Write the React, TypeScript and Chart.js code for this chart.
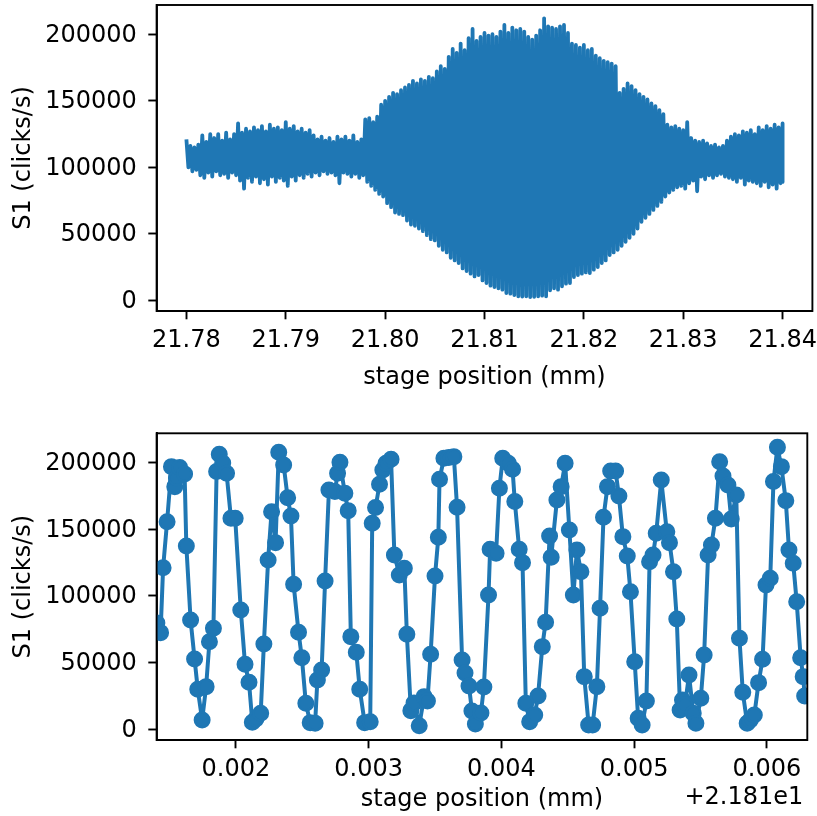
import React, { useEffect, useRef } from 'react';
import { Chart, registerables } from 'chart.js';

Chart.register(...registerables);

const FONT = 'DejaVu Sans';
const BLUE = '#1f77b4';
const FS = 24;

// ---------- overview scan (top panel) ----------
const overviewStart = 21.78; // mm
const overviewStep = 0.0004; // mm, about one fringe period
const overviewPeaks = [
  121000, 116000, 115000, 117000, 124000, 119000, 125000, 122000, 125000, 120000,
  126000, 121000, 125000, 133000, 126000, 129000, 127000, 130000, 128000, 131000,
  127000, 132000, 129000, 130000, 128000, 134000, 129000, 131000, 127000, 129000,
  126000, 128000, 124000, 121000, 123000, 120000, 122000, 119000, 123000, 121000,
  123000, 120000, 124000, 119000, 121000, 136000, 137000, 134000, 138000, 147000,
  150000, 153000, 156000, 155000, 158000, 160000, 162000, 165000, 163000, 166000,
  165000, 168000, 167000, 172000, 176000, 174000, 183000, 189000, 186000, 193000,
  188000, 197000, 204000, 195000, 198000, 201000, 199000, 200000, 198000, 202000,
  207000, 201000, 205000, 203000, 204000, 202000, 198000, 196000, 199000, 203000,
  212000, 206000, 205000, 204000, 206000, 207000, 201000, 193000, 192000, 190000,
  192000, 188000, 189000, 184000, 182000, 180000, 179000, 178000, 176000, 156000,
  159000, 163000, 161000, 158000, 155000, 153000, 151000, 148000, 146000, 143000,
  140000, 132000, 130000, 131000, 129000, 128000, 134000, 122000, 120000, 119000,
  120000, 118000, 116000, 117000, 115000, 116000, 120000, 123000, 125000, 124000,
  127000, 126000, 128000, 125000, 130000, 128000, 131000, 129000, 132000, 130000,
  133000,
];
const overviewTroughs = [
  100000, 97000, 98000, 94000, 92000, 96000, 93000, 97000, 94000, 95000,
  92000, 96000, 94000, 90000, 84000, 92000, 89000, 93000, 88000, 91000,
  87000, 93000, 89000, 92000, 90000, 86000, 93000, 90000, 94000, 92000,
  95000, 93000, 96000, 94000, 97000, 95000, 96000, 94000, 88000, 96000,
  95000, 93000, 95000, 92000, 94000, 89000, 86000, 83000, 80000, 78000,
  73000, 70000, 66000, 65000, 64000, 60000, 57000, 56000, 54000, 52000,
  49000, 46000, 45000, 41000, 38000, 36000, 32000, 30000, 28000, 24000,
  22000, 20000, 18000, 19000, 15000, 13000, 11000, 10000, 9000, 8000,
  5500, 5000, 4000, 3000, 2800, 3000, 2500, 2700, 3000, 3500,
  3000, 7500, 9000, 8000, 10500, 12500, 13000, 17500, 19000, 20000,
  21000, 20500, 23000, 25000, 28000, 30000, 34000, 36000, 38000, 41000,
  44000, 47000, 50000, 54000, 59000, 62000, 65000, 68000, 71000, 74000,
  78000, 81000, 83000, 85000, 86000, 84000, 88000, 90000, 82000, 93000,
  91000, 94000, 92000, 94000, 95000, 93000, 92000, 91000, 89000, 92000,
  87000, 90000, 89000, 88000, 86000, 89000, 85000, 87000, 84000, 88000,
  89000,
];
const overviewXTicks = [21.78, 21.79, 21.8, 21.81, 21.82, 21.83, 21.84];

// ---------- zoomed scan (bottom panel), x relative to offset ----------
const zoomOffsetLabel = '+2.181e1';
const zoomX = [
  0.001405, 0.001433, 0.001452, 0.001482, 0.001515, 0.00154, 0.001552, 0.001577, 0.001614, 0.001627,
  0.001659, 0.001689, 0.001713, 0.001746, 0.001776, 0.001801, 0.001831, 0.001855, 0.001875, 0.001901,
  0.00193, 0.001963, 0.001995, 0.002037, 0.002069, 0.002099, 0.002124, 0.002151, 0.002187, 0.002211,
  0.002243, 0.002269, 0.002299, 0.002323, 0.00236, 0.00239, 0.002415, 0.002435, 0.002472, 0.002497,
  0.002527, 0.00256, 0.002597, 0.002614, 0.002646, 0.002672, 0.002701, 0.002746, 0.002766, 0.002784,
  0.002821, 0.002846, 0.002866, 0.002907, 0.002933, 0.00297, 0.003012, 0.003027, 0.003052, 0.003082,
  0.003107, 0.003131, 0.003169, 0.003194, 0.003231, 0.003269, 0.003288, 0.003318, 0.003342, 0.003381,
  0.003418, 0.003443, 0.003467, 0.0035, 0.003525, 0.003534, 0.003567, 0.003604, 0.003642, 0.003666,
  0.003704, 0.003726, 0.003756, 0.003778, 0.003804, 0.003846, 0.003868, 0.003903, 0.003915, 0.00396,
  0.003985, 0.00401, 0.004052, 0.004084, 0.004101, 0.004134, 0.004159, 0.004184, 0.004213, 0.004251,
  0.004276, 0.004308, 0.004333, 0.004363, 0.004375, 0.004418, 0.00445, 0.00448, 0.004512, 0.004542,
  0.004569, 0.004599, 0.004624, 0.004657, 0.004687, 0.004719, 0.004743, 0.004769, 0.004799, 0.004823,
  0.00486, 0.004885, 0.004915, 0.004948, 0.004972, 0.005004, 0.00503, 0.00506, 0.005092, 0.005116,
  0.005142, 0.005166, 0.005204, 0.005246, 0.005266, 0.005296, 0.005321, 0.005346, 0.005364, 0.005383,
  0.005413, 0.005445, 0.005465, 0.005502, 0.005527, 0.005557, 0.005582, 0.005612, 0.005644, 0.005669,
  0.005706, 0.005731, 0.005769, 0.005793, 0.005818, 0.005851, 0.005875, 0.005905, 0.005937, 0.005967,
  0.005993, 0.006025, 0.006049, 0.006079, 0.006109, 0.006142, 0.006166, 0.006198, 0.006224, 0.006254,
  0.006273, 0.006284,
];
const zoomY = [
  79700, 72500, 121200, 155700, 197000, 182000, 188500, 196300, 191500, 137500,
  82000, 52700, 30000, 7000, 32000, 65700, 75800, 193300, 206300, 199800,
  192000, 158300, 158300, 89500, 48800, 35300, 5250, 7700, 12000, 64000,
  127000, 163200, 140000, 207800, 198300, 173700, 160000, 108800, 72800, 53700,
  19500, 5000, 4500, 37000, 44500, 111200, 179500, 178300, 192000, 200300,
  177000, 164000, 69500, 57800, 30000, 5000, 5700, 154500, 166300, 183800,
  194500, 199600, 202500, 130800, 115800, 120800, 71300, 14000, 19700, 2700,
  24500, 21200, 56300, 115000, 144000, 187500, 203300, 203800, 204500, 166500,
  52000, 42300, 32500, 13700, 4000, 12300, 31800, 100700, 135000, 132000,
  180800, 203300, 199500, 195000, 170800, 135000, 125000, 19500, 5700, 10700,
  25000, 62000, 80300, 145000, 129000, 172000, 182000, 199500, 149500, 100700,
  134500, 118200, 39500, 3200, 3200, 32000, 90800, 159000, 182000, 193800,
  193800, 175000, 144500, 130000, 103200, 50700, 8250, 3200, 21200, 125700,
  130800, 147000, 187000, 148200, 140000, 118200, 82700, 14500, 22000, 18300,
  40700, 12000, 4500, 23200, 55700, 130800, 138300, 158300, 200700, 190000,
  183300, 157800, 175800, 68300, 27800, 4500, 7000, 10700, 35000, 52500,
  108300, 113300, 185800, 211500, 197000, 171500, 134500, 124500, 95700, 53700,
  39500, 25000,
];
const zoomXTicks = [0.002, 0.003, 0.004, 0.005, 0.006];

const yTicks = [0, 50000, 100000, 150000, 200000];
const yMin = -8030;
const yMax = 222000;

const yTitle = 'S1 (clicks/s)';
const xTitle = 'stage position (mm)';

// ---------- helpers ----------
const framePlugin = {
  id: 'frame',
  afterDraw(chart: any) {
    const { ctx, chartArea } = chart;
    ctx.save();
    ctx.strokeStyle = '#000';
    ctx.lineWidth = 1.9;
    ctx.strokeRect(chartArea.left, chartArea.top, chartArea.right - chartArea.left, chartArea.bottom - chartArea.top);
    ctx.restore();
  },
};

function zeroPadding(scale: any) {
  scale.paddingTop = 0;
  scale.paddingBottom = 0;
  scale.paddingLeft = 0;
  scale.paddingRight = 0;
}

function axisCommon() {
  return {
    grid: { display: true, drawOnChartArea: false, drawTicks: true, tickLength: 8.3, tickWidth: 1.9, tickColor: '#000' },
    border: { display: true, color: '#000', width: 1.9 },
  };
}

function buildOptions(cfg: {
  xMin: number; xMax: number; xTicks: number[]; decimals: number;
  padTop: number; xAxisHeight: number; titlePadBottom: number;
}): any {
  return {
    responsive: false,
    animation: false,
    devicePixelRatio: 1,
    layout: { padding: { left: 0, right: 4.6, top: cfg.padTop, bottom: 0 } },
    plugins: { legend: { display: false }, tooltip: { enabled: false }, title: { display: false } },
    scales: {
      x: {
        type: 'linear',
        min: cfg.xMin,
        max: cfg.xMax,
        ...axisCommon(),
        afterBuildTicks: (scale: any) => { scale.ticks = cfg.xTicks.map((v) => ({ value: v })); },
        afterFit: (scale: any) => { scale.height = cfg.xAxisHeight; zeroPadding(scale); },
        ticks: {
          autoSkip: false, maxRotation: 0, minRotation: 0, padding: 9, color: '#000',
          font: { family: FONT, size: FS, lineHeight: 1 },
          callback: (v: any) => Number(v).toFixed(cfg.decimals),
        },
        title: {
          display: true, text: xTitle, color: '#000',
          font: { family: FONT, size: FS, lineHeight: 1 },
          padding: { top: 0, bottom: cfg.titlePadBottom },
        },
      },
      y: {
        type: 'linear',
        min: yMin,
        max: yMax,
        ...axisCommon(),
        afterBuildTicks: (scale: any) => { scale.ticks = yTicks.map((v) => ({ value: v })); },
        afterFit: (scale: any) => { scale.width = 156.6; zeroPadding(scale); },
        ticks: {
          autoSkip: false, padding: 11.5, color: '#000', labelOffset: 1,
          font: { family: FONT, size: FS, lineHeight: 1 },
          callback: (v: any) => String(v),
        },
        title: {
          display: true, text: yTitle, color: '#000',
          font: { family: FONT, size: FS, lineHeight: 1 },
          padding: { top: 12, bottom: 0 },
        },
      },
    },
  };
}

export default function App() {
  const topRef = useRef<HTMLCanvasElement>(null);
  const botRef = useRef<HTMLCanvasElement>(null);

  useEffect(() => {
    // zig-zag through the read-off fringe peaks and troughs
    const overviewData: { x: number; y: number }[] = [];
    const n = overviewPeaks.length;
    for (let i = 0; i < n; i++) {
      const x = overviewStart + i * overviewStep;
      overviewData.push({ x, y: overviewPeaks[i] });
      const xt = i < n - 1 ? x + overviewStep / 2 : x;
      overviewData.push({ x: xt, y: overviewTroughs[i] });
    }
    const zoomData = zoomX.map((x, i) => ({ x, y: zoomY[i] }));

    const top = new Chart(topRef.current!, {
      type: 'line',
      data: {
        datasets: [{
          data: overviewData, borderColor: BLUE, backgroundColor: BLUE, borderWidth: 3.8,
          pointRadius: 0, borderJoinStyle: 'round', borderCapStyle: 'butt', tension: 0, fill: false,
        }],
      },
      options: buildOptions({
        xMin: 21.777, xMax: 21.843, xTicks: overviewXTicks, decimals: 2,
        padTop: 5, xAxisHeight: 97, titlePadBottom: 18.5,
      }),
      plugins: [framePlugin],
    });

    const offsetPlugin = {
      id: 'offsetText',
      afterDraw(chart: any) {
        const { ctx, chartArea } = chart;
        ctx.save();
        ctx.fillStyle = '#000';
        ctx.font = `${FS}px "${FONT}"`;
        ctx.textAlign = 'right';
        ctx.textBaseline = 'middle';
        ctx.fillText(zoomOffsetLabel, chartArea.right - 4, 390);
        ctx.restore();
      },
    };

    const bot = new Chart(botRef.current!, {
      type: 'line',
      data: {
        datasets: [{
          data: zoomData, borderColor: BLUE, backgroundColor: BLUE, borderWidth: 4,
          pointRadius: 7.3, pointBorderWidth: 2.4, pointBackgroundColor: BLUE, pointBorderColor: BLUE,
          borderJoinStyle: 'round', tension: 0, fill: false,
        }],
      },
      options: buildOptions({
        xMin: 0.001403, xMax: 0.006304, xTicks: zoomXTicks, decimals: 3,
        padTop: 25.3, xAxisHeight: 76, titlePadBottom: 4.5,
      }),
      plugins: [framePlugin, offsetPlugin],
    });

    return () => { top.destroy(); bot.destroy(); };
  }, []);

  return (
    <div style={{ position: 'absolute', left: 0, top: 0, width: 817, height: 816, background: '#fff' }}>
      <canvas ref={topRef} width={817} height={408}
        style={{ position: 'absolute', left: 0, top: 0, width: 817, height: 408, display: 'block' }} />
      <canvas ref={botRef} width={817} height={408}
        style={{ position: 'absolute', left: 0, top: 408, width: 817, height: 408, display: 'block' }} />
    </div>
  );
}
